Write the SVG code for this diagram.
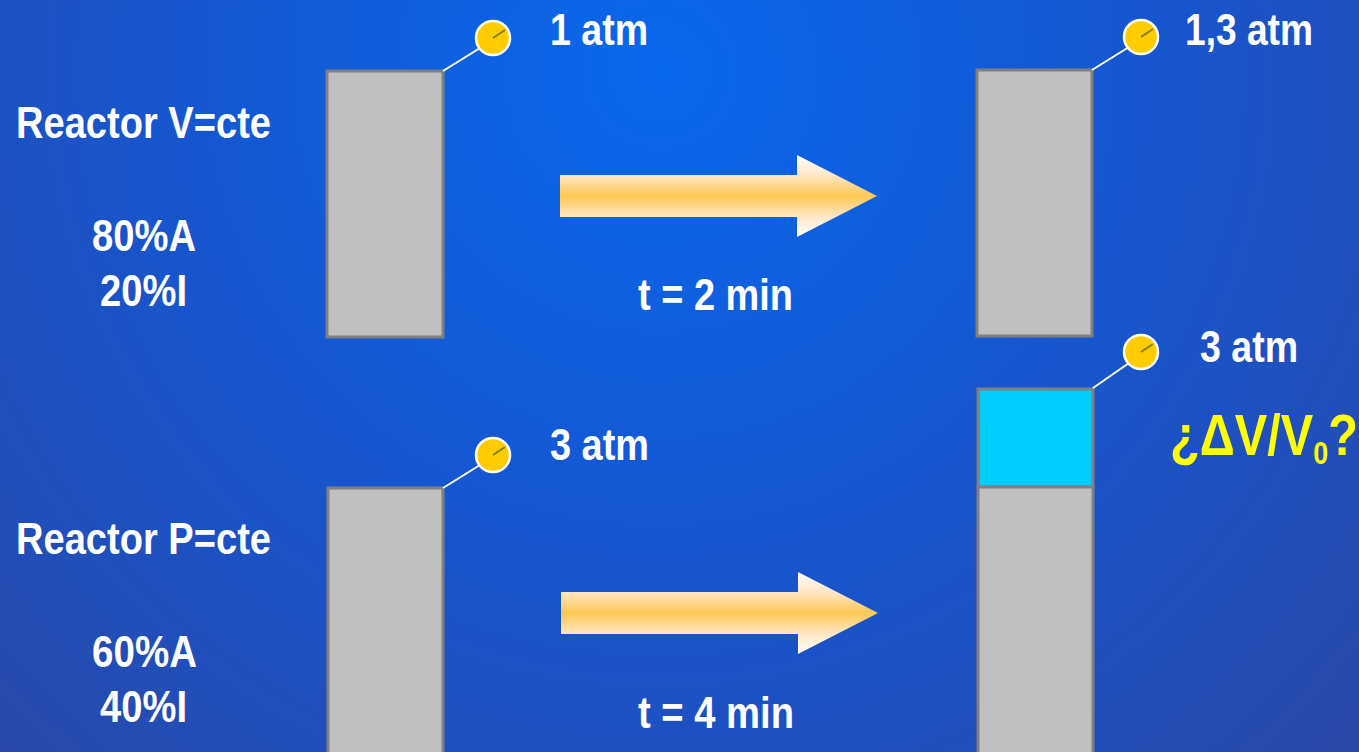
<svg xmlns="http://www.w3.org/2000/svg" width="1359" height="752" viewBox="0 0 1359 752">
  <defs>
    <radialGradient id="bg" gradientUnits="userSpaceOnUse" cx="660" cy="70" r="1050">
      <stop offset="0" stop-color="#0868ec"/>
      <stop offset="0.45" stop-color="#1656d0"/>
      <stop offset="1" stop-color="#2c46a2"/>
    </radialGradient>
    <linearGradient id="arrowFill" x1="0" y1="0" x2="0" y2="1">
      <stop offset="0" stop-color="#ffffff"/>
      <stop offset="0.25" stop-color="#ffe6c4"/>
      <stop offset="0.5" stop-color="#ffc854"/>
      <stop offset="0.75" stop-color="#ffe6c4"/>
      <stop offset="1" stop-color="#ffffff"/>
    </linearGradient>
    <!-- pressure gauge: leader origin at (0,0) is the vessel corner -->
    <g id="gauge">
      <circle cx="50" cy="-33" r="17" fill="#ffcc00" stroke="#ffffff" stroke-width="2.5"/>
      <line x1="50" y1="-33" x2="62" y2="-41" stroke="#808000" stroke-width="2"/>
    </g>
  </defs>
  <style>
    .vessel { fill: #c0c0c0; stroke: #808080; stroke-width: 3; }
    .gas { fill: #00ccff; stroke: #808080; stroke-width: 3; }
    .lead { stroke: #ffffff; stroke-width: 2; }
    .lbl { font-family: "Liberation Sans", Arial, sans-serif; font-weight: bold; font-size: 45px; fill: #ffffff; }
    .q { font-family: "Liberation Sans", Arial, sans-serif; font-weight: bold; fill: #ffff00; }
    .arrow { fill: url(#arrowFill); }
  </style>

  <rect x="0" y="0" width="1359" height="752" fill="url(#bg)"/>

  <!-- constant-volume reactor, initial state -->
  <g id="reactorV0">
    <rect class="vessel" x="327" y="71" width="116" height="266"/>
    <line class="lead" x1="443" y1="71" x2="480" y2="48"/>
    <use href="#gauge" x="443" y="71"/>
    <text class="lbl" x="550" y="45" textLength="98" lengthAdjust="spacingAndGlyphs">1 atm</text>
  </g>

  <!-- constant-volume reactor, after 2 min -->
  <g id="reactorV1">
    <rect class="vessel" x="977" y="70" width="115" height="266"/>
    <line class="lead" x1="1092" y1="70" x2="1129" y2="47"/>
    <use href="#gauge" x="1091" y="70"/>
    <text class="lbl" x="1185" y="45" textLength="128" lengthAdjust="spacingAndGlyphs">1,3 atm</text>
  </g>

  <!-- constant-pressure reactor, initial state -->
  <g id="reactorP0">
    <rect class="vessel" x="328" y="488" width="115" height="290"/>
    <line class="lead" x1="443" y1="488" x2="480" y2="465"/>
    <use href="#gauge" x="443" y="488"/>
    <text class="lbl" x="550" y="460" textLength="99" lengthAdjust="spacingAndGlyphs">3 atm</text>
  </g>

  <!-- constant-pressure reactor, after 4 min (expanded) -->
  <g id="reactorP1">
    <rect class="gas" x="978" y="389" width="115" height="98"/>
    <rect class="vessel" x="978" y="487" width="115" height="290"/>
    <line class="lead" x1="1093" y1="388" x2="1129" y2="363"/>
    <use href="#gauge" x="1091" y="385"/>
    <text class="lbl" x="1200" y="362" textLength="98" lengthAdjust="spacingAndGlyphs">3 atm</text>
    <text class="q" transform="translate(1170,455) scale(0.84,1)" font-size="58">¿ΔV/V<tspan font-size="32" dy="9">0</tspan><tspan dy="-9">?</tspan></text>
  </g>

  <!-- side labels -->
  <g id="labelV">
    <text class="lbl" x="16" y="138" textLength="255" lengthAdjust="spacingAndGlyphs">Reactor V=cte</text>
    <text class="lbl" x="92" y="251" textLength="104" lengthAdjust="spacingAndGlyphs">80%A</text>
    <text class="lbl" x="100" y="306" textLength="87" lengthAdjust="spacingAndGlyphs">20%I</text>
  </g>
  <g id="labelP">
    <text class="lbl" x="16" y="554" textLength="255" lengthAdjust="spacingAndGlyphs">Reactor P=cte</text>
    <text class="lbl" x="92" y="667" textLength="105" lengthAdjust="spacingAndGlyphs">60%A</text>
    <text class="lbl" x="100" y="722" textLength="87" lengthAdjust="spacingAndGlyphs">40%I</text>
  </g>

  <!-- time arrows -->
  <g id="connectors">
    <polygon class="arrow" points="560,175 797,175 797,155 877,196 797,237 797,217 560,217"/>
    <text class="lbl" x="638" y="310" textLength="155" lengthAdjust="spacingAndGlyphs">t = 2 min</text>
    <polygon class="arrow" points="561,592 798,592 798,572 878,613 798,654 798,634 561,634"/>
    <text class="lbl" x="638" y="728" textLength="156" lengthAdjust="spacingAndGlyphs">t = 4 min</text>
  </g>
</svg>
